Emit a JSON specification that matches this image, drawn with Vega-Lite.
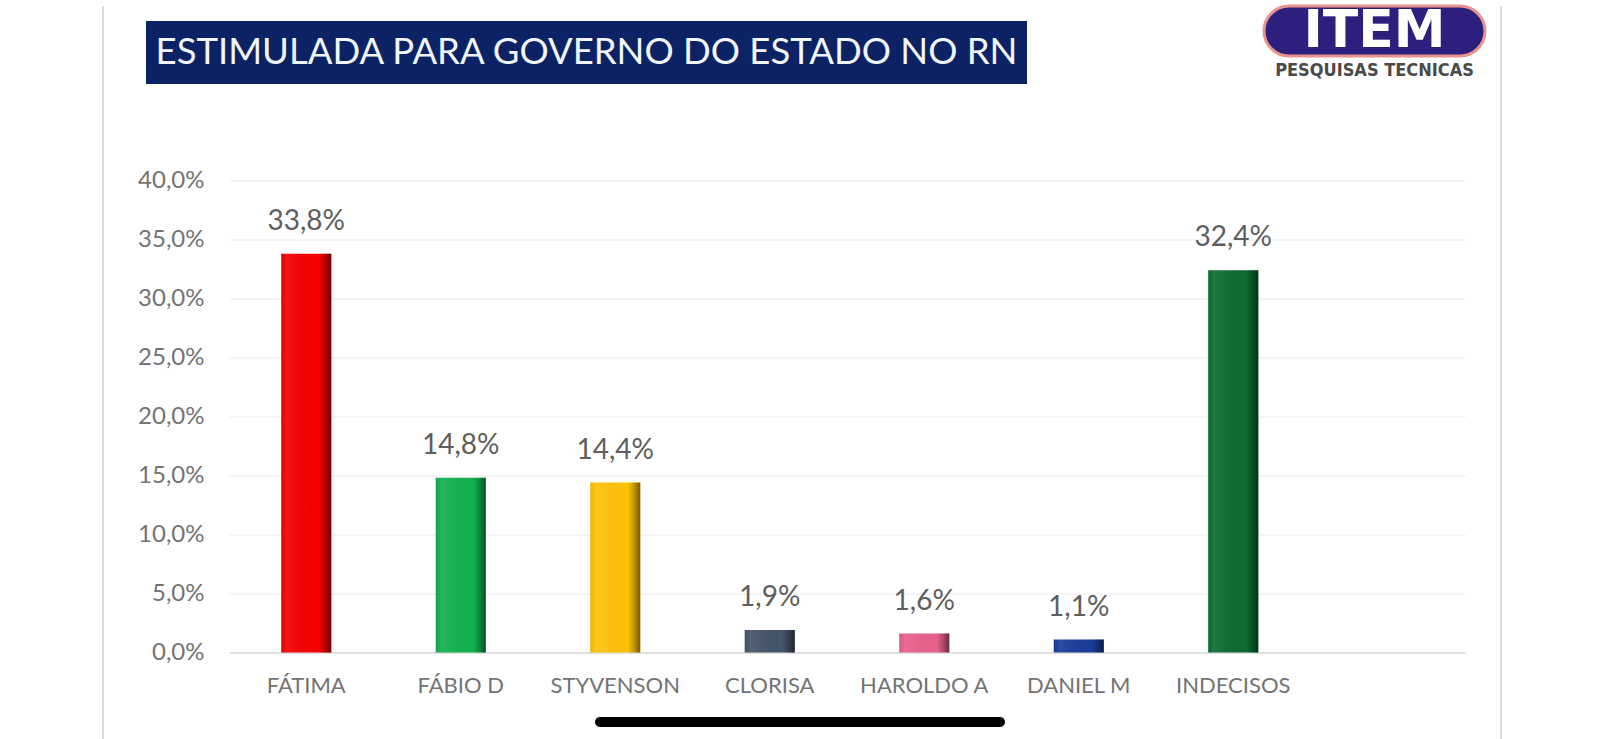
{
  "$schema": "https://vega.github.io/schema/vega-lite/v6.json",
  "background": "white",
  "padding": {"left": 102, "top": 3, "right": 0, "bottom": 0},
  "config": {
    "locale": {"number": {"decimal": ",", "thousands": ".", "grouping": [3], "currency": ["R$", ""]}},
    "view": {"stroke": null},
    "font": "Lato"
  },
  "spacing": 0,
  "hconcat": [
    {"width": 2, "height": 739, "view": {"fill": "#dcdcdc", "stroke": null}, "data": {"values": []}, "mark": "point"},
    {"width": 32, "height": 10, "data": {"values": []}, "mark": "point"},
    {
      "spacing": 20,
      "vconcat": [
        {
          "spacing": 84.5,
          "vconcat": [
            {
              "spacing": 0,
              "hconcat": [
                {"width": 10, "height": 10, "data": {"values": []}, "mark": "point"},
                {
                  "spacing": 235,
                  "hconcat": [
                    {
                      "spacing": 0,
                      "vconcat": [
                        {"width": 10, "height": 15, "data": {"values": []}, "mark": "point"},
                        {
                          "width": 881,
                          "height": 63,
                          "view": {"fill": "#0b2365", "stroke": null},
                          "data": {"values": [{"t": "ESTIMULADA PARA GOVERNO DO ESTADO NO RN"}]},
                          "mark": {"type": "text", "font": "Lato", "fontSize": 36.5, "color": "#f2f5fc"},
                          "encoding": {"text": {"field": "t", "type": "nominal"}}
                        }
                      ]
                    },
                    {
                      "width": 221,
                      "height": 50,
                      "title": {"text": "PESQUISAS TECNICAS", "orient": "bottom", "offset": 5, "font": "DejaVu Sans Condensed", "fontSize": 18, "fontWeight": "bold", "color": "#4a4a4a"},
                      "view": {"fill": "#2d1f7e", "stroke": "#e8948a", "strokeWidth": 3, "cornerRadius": 25},
                      "data": {"values": [{"t": "ITEM"}]},
                      "mark": {"type": "text", "font": "DejaVu Sans", "fontSize": 52, "fontWeight": "bold", "color": "#ffffff"},
                      "encoding": {"text": {"field": "t", "type": "nominal"}}
                    }
                  ]
                }
              ]
            },
            {
              "spacing": 0,
              "hconcat": [
                {"width": 1, "height": 10, "data": {"values": []}, "mark": "point"},
                {
                  "width": 1236,
                  "height": 472,
                  "data": {"values": [
                    {"name": "FÁTIMA", "pct": 0.338},
                    {"name": "FÁBIO D", "pct": 0.148},
                    {"name": "STYVENSON", "pct": 0.144},
                    {"name": "CLORISA", "pct": 0.019},
                    {"name": "HAROLDO A", "pct": 0.016},
                    {"name": "DANIEL M", "pct": 0.011},
                    {"name": "INDECISOS", "pct": 0.324}
                  ]},
                  "encoding": {
                    "x": {
                      "field": "name", "type": "nominal", "sort": null,
                      "scale": {"domain": ["FÁTIMA", "FÁBIO D", "STYVENSON", "CLORISA", "HAROLDO A", "DANIEL M", "INDECISOS", " "], "paddingInner": 0.676, "paddingOuter": 0.338},
                      "axis": {"title": null, "labelAngle": 0, "ticks": false, "domain": true, "domainColor": "#d9d9d9", "domainWidth": 1.5, "grid": false, "labelFont": "Lato", "labelFontSize": 22, "labelColor": "#737373", "labelPadding": 23}
                    },
                    "y": {
                      "field": "pct", "type": "quantitative",
                      "scale": {"domain": [0, 0.4]},
                      "axis": {"title": null, "values": [0, 0.05, 0.1, 0.15, 0.2, 0.25, 0.3, 0.35, 0.4], "format": ".1%", "domain": false, "ticks": false, "grid": true, "gridColor": "#ececec", "gridWidth": 1.2, "labelFont": "Lato", "labelFontSize": 24, "labelColor": "#737373", "labelPadding": 25}
                    }
                  },
                  "layer": [
                    {
                      "mark": {"type": "bar"},
                      "encoding": {
                        "color": {
                          "field": "name", "type": "nominal", "legend": null,
                          "scale": {"domain": ["FÁTIMA", "FÁBIO D", "STYVENSON", "CLORISA", "HAROLDO A", "DANIEL M", "INDECISOS"],
                                    "range": ["#f50000", "#13b14e", "#ffc20a", "#44546a", "#e8618c", "#1a3d9b", "#0d6b32"]}
                        }
                      }
                    },
                    {
                      "mark": {
                        "type": "bar",
                        "fill": {
                          "gradient": "linear", "x1": 0, "x2": 1, "y1": 0, "y2": 0,
                          "stops": [
                            {"offset": 0, "color": "rgba(0,0,0,0.08)"},
                            {"offset": 0.12, "color": "rgba(255,255,255,0.08)"},
                            {"offset": 0.75, "color": "rgba(0,0,0,0)"},
                            {"offset": 0.88, "color": "rgba(0,0,0,0.25)"},
                            {"offset": 1, "color": "rgba(0,0,0,0.55)"}
                          ]
                        }
                      }
                    },
                    {
                      "mark": {"type": "text", "baseline": "alphabetic", "dy": -24, "font": "Lato", "fontSize": 28, "color": "#5e5e5e"},
                      "encoding": {"text": {"field": "pct", "type": "quantitative", "format": ".1%"}}
                    }
                  ]
                }
              ]
            }
          ]
        },
        {
          "spacing": 0,
          "hconcat": [
            {"width": 459, "height": 10, "data": {"values": []}, "mark": "point"},
            {"width": 410, "height": 10, "view": {"fill": "#000000", "stroke": null, "cornerRadius": 5}, "data": {"values": []}, "mark": "point"}
          ]
        }
      ]
    },
    {"width": 13, "height": 10, "data": {"values": []}, "mark": "point"},
    {"width": 2, "height": 739, "view": {"fill": "#dcdcdc", "stroke": null}, "data": {"values": []}, "mark": "point"}
  ]
}
